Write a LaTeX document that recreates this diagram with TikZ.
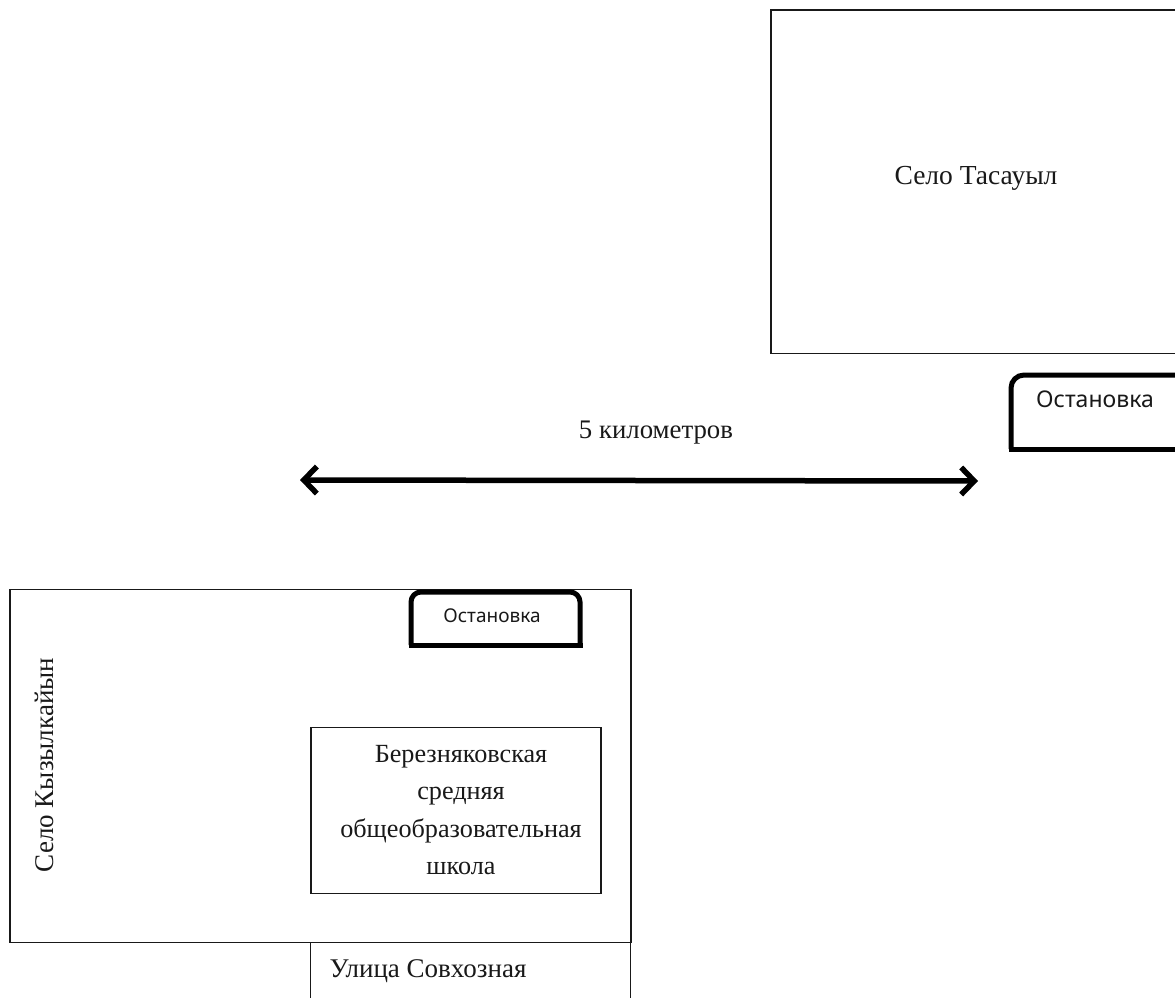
\documentclass[tikz,border=0pt]{standalone}
\usepackage{fontspec}
\setmainfont{Liberation Serif}
\newfontfamily\stopfont{Noto Sans}
\usetikzlibrary{arrows.meta}
\tikzset{
  thinbox/.style={draw=black!90,line width=1.4pt},
  stopline/.style={draw=black,line width=5pt},
  label/.style={inner sep=0pt,align=center,text=black!90},
  farrow/.style={line width=5.5pt,draw=black,{Straight Barb[length=13pt,width=27pt,line width=5.5pt]}-{Straight Barb[length=13pt,width=27pt,line width=5.5pt]}}
}
\begin{document}
\begin{tikzpicture}[x=1pt,y=-1pt]
\useasboundingbox (0,0) rectangle (1175,998);
\fill[white] (0,0) rectangle (1175,998);
% top village
\node[thinbox,minimum width=405pt,minimum height=343pt,inner sep=0pt,anchor=north west] (tasauyl) at (770.3,9.5) {};
\node[label,font=\fontsize{27.5}{32}\selectfont] (tasauyltext) at (976,178) {Село Тасауыл};
% top stop
\draw[stopline,rounded corners=13pt] (1177,375) -- (1011,375) -- (1011,449);
\draw[stopline] (1011,451.5) -- (1011,449) -- (1177,449);
\node[label,font=\fontsize{23}{27}\stopfont] (stoptop) at (1095,399) {Остановка};
% distance
\coordinate (distl) at (300,480);
\coordinate (distr) at (978,481);
\draw[farrow] (distl) -- (distr);
\node[label,font=\fontsize{26.8}{32}\selectfont] (dist) at (656,433) {5 километров};
% bottom village
\node[thinbox,minimum width=621pt,minimum height=353pt,inner sep=0pt,anchor=north west] (kyz) at (9.3,588.5) {};
\node[label,rotate=90,font=\fontsize{27}{32}\selectfont] (kyztext) at (44,765) {Село Кызылкайын};
% bottom stop
\fill[white,rounded corners=10pt] (411,645) -- (411,592) -- (580,592) -- (580,645) -- cycle;
\draw[stopline,rounded corners=10pt] (411,645) -- (411,592) -- (580,592) -- (580,645);
\draw[stopline] (408.5,645) -- (582.5,645);
\node[label,font=\fontsize{19}{23}\stopfont] (stopbottom) at (492,616) {Остановка};
% school
\node[thinbox,minimum width=290pt,minimum height=166pt,inner sep=0pt,anchor=north west] (school) at (310.3,726.5) {};
\node[label,font=\fontsize{26.2}{37.5}\selectfont] (schooltext) at (461,810) {Березняковская\\средняя\\общеобразовательная\\школа};
% street
\coordinate (s1) at (310.7,998);
\coordinate (s2) at (630.7,998);
\draw[thinbox] (310.7,942) -- (s1);
\draw[thinbox] (630.7,942) -- (s2);
\node[label,font=\fontsize{27}{32}\selectfont] (street) at (428,971) {Улица Совхозная};
\end{tikzpicture}
\end{document}
